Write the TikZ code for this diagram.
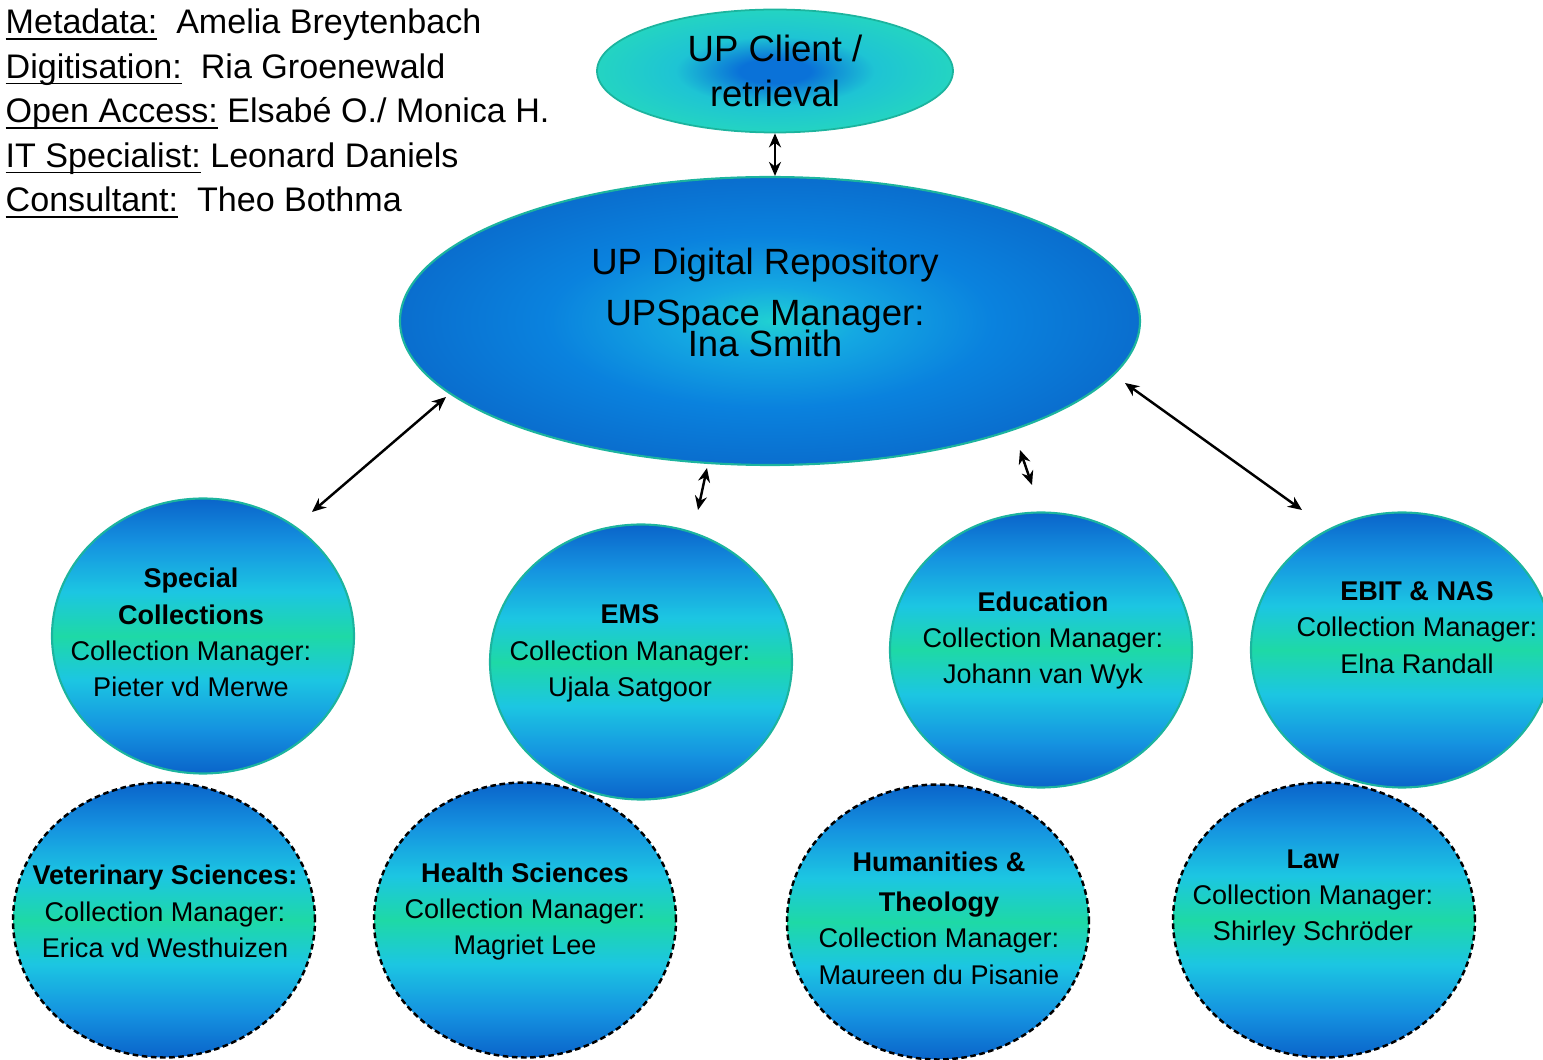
\documentclass[tikz,border=0pt]{standalone}
\usepackage{fontspec}
\setmainfont{Liberation Sans}
\usetikzlibrary{positioning}
\usetikzlibrary{shapes.geometric}
\usetikzlibrary{arrows.meta}

\definecolor{orbdeep}{HTML}{0A64CA}
\definecolor{orbblue}{HTML}{1592E0}
\definecolor{orbcyan}{HTML}{1CC6E2}
\definecolor{orbgreen}{HTML}{1ED9A6}
\definecolor{repocore}{HTML}{20D0D2}
\definecolor{repoinner}{HTML}{14A8E2}
\definecolor{repoblue}{HTML}{0A82DE}
\definecolor{repoedge}{HTML}{0A6ECE}
\definecolor{cliblue}{HTML}{0A72D8}
\definecolor{clitealin}{HTML}{1EC4D4}
\definecolor{cliteal}{HTML}{24D4C2}
\definecolor{rim}{HTML}{1CB49E}

\pgfdeclareverticalshading{orbshade}{100bp}{color(0bp)=(orbdeep); color(25bp)=(orbdeep); color(33bp)=(orbblue); color(42bp)=(orbcyan); color(50bp)=(orbgreen); color(58bp)=(orbcyan); color(67bp)=(orbblue); color(75bp)=(orbdeep); color(100bp)=(orbdeep)}
\pgfdeclareradialshading{reposhade}{\pgfpoint{0bp}{0bp}}{color(0bp)=(repocore); color(6bp)=(repoinner); color(15bp)=(repoblue); color(25bp)=(repoedge); color(50bp)=(repoedge)}
\pgfdeclareradialshading{clishade}{\pgfpoint{0bp}{0bp}}{color(0bp)=(cliblue); color(5bp)=(cliblue); color(14bp)=(clitealin); color(25bp)=(cliteal); color(50bp)=(cliteal)}

\newcommand{\orbfont}{\fontsize{7.7}{10.3}\selectfont}
\newcommand{\bigfont}{\fontsize{10.4}{12.8}\selectfont}
\newcommand{\stafffont}{\fontsize{9.7}{12.6}\selectfont}
\newcommand{\roleline}[1]{\underline{\smash{#1}}}

\tikzset{
	staff/.style = {anchor=base west, inner sep=0pt, font=\stafffont},
	orb/.style = {ellipse, minimum width=3.02cm, minimum height=2.75cm, inner sep=0pt, shading=orbshade},
	orbtop/.style = {orb, draw=rim, line width=0.6pt},
	orbbottom/.style = {orb, draw=black, line width=0.7pt, dash pattern=on 1.6pt off 1pt},
	orbtext/.style = {inner sep=0pt, align=center, font=\orbfont},
	repotext/.style = {anchor=base, inner sep=0pt, font=\bigfont},
	biarrow/.style = {{Stealth[length=1.4mm,width=1.2mm]}-{Stealth[length=1.4mm,width=1.2mm]}, line width=0.7pt, black}
}

\begin{document}
\begin{tikzpicture}
		\useasboundingbox (0,0) rectangle (15.43,-10.60);
		% staff
		\node[staff] (meta) at (0.05,-0.34) {\roleline{Metadata:}\ \ Amelia Breytenbach};
		\node[staff] (digi) at (0.05,-0.785) {\roleline{Digitisation:}\ \ Ria Groenewald};
		\node[staff] (oa) at (0.05,-1.23) {\roleline{Open Access:} Elsabé O./ Monica H.};
		\node[staff] (it) at (0.05,-1.675) {\roleline{IT Specialist:} Leonard Daniels};
		\node[staff] (cons) at (0.05,-2.12) {\roleline{Consultant:}\ \ Theo Bothma};
		
		% client and repository
		\node[ellipse, minimum width=3.56cm, minimum height=1.23cm, inner sep=0pt, shading=clishade, draw=rim, line width=0.5pt, align=center, font=\bigfont] (client) at (7.75,-0.71) {UP Client /\\retrieval};
		\node[ellipse, minimum width=7.40cm, minimum height=2.88cm, inner sep=0pt, shading=reposhade, draw=rim, line width=0.6pt] (repo) at (7.70,-3.21) {};
		\node[repotext] (repo-title) at (7.65,-2.75) {UP Digital Repository};
		\node[repotext] (repo-mgr) at (7.65,-3.26) {UPSpace Manager:};
		\node[repotext] (repo-name) at (7.65,-3.57) {Ina Smith};
		
		% faculties, top row
		\node[orbtop] (spec) at (2.03,-6.36) {};
		\node[orbtop] (ems) at (6.41,-6.62) {};
		\node[orbtop] (edu) at (10.41,-6.50) {};
		\node[orbtop] (ebit) at (14.02,-6.50) {};
		\node[orbtext] (spec-text) at (1.91,-6.325) {\textbf{Special}\\\textbf{Collections}\\Collection Manager:\\Pieter vd Merwe};
		\node[orbtext] (ems-text) at (6.30,-6.535) {\textbf{EMS}\\Collection Manager:\\Ujala Satgoor};
		\node[orbtext] (edu-text) at (10.43,-6.405) {\textbf{Education}\\Collection Manager:\\Johann van Wyk};
		\node[orbtext] (ebit-text) at (14.17,-6.275) {\textbf{EBIT \& NAS}\\Collection Manager:\\Elna Randall};
		
		% faculties, bottom row
		\node[orbbottom] (vet) at (1.64,-9.20) {};
		\node[orbbottom] (health) at (5.25,-9.20) {};
		\node[orbbottom] (hum) at (9.38,-9.22) {};
		\node[orbbottom] (law) at (13.24,-9.20) {};
		\node[orbtext] (vet-text) at (1.65,-9.115) {\textbf{Veterinary Sciences:}\\Collection Manager:\\Erica vd Westhuizen};
		\node[orbtext] (health-text) at (5.25,-9.115) {\textbf{Health Sciences}\\Collection Manager:\\Magriet Lee};
		\node[orbtext] (hum-text) at (9.39,-9.18) {\textbf{Humanities \&}\\[1.2pt]\textbf{Theology}\\Collection Manager:\\Maureen du Pisanie};
		\node[orbtext] (law-text) at (13.13,-8.98) {\textbf{Law}\\Collection Manager:\\Shirley Schröder};
		
		% arrows
		\coordinate (repo-sw) at (4.46,-3.97);
		\coordinate (spec-tip) at (3.12,-5.12);
		\coordinate (repo-s) at (7.07,-4.68);
		\coordinate (ems-tip) at (6.98,-5.10);
		\coordinate (repo-se) at (10.20,-4.50);
		\coordinate (edu-tip) at (10.32,-4.85);
		\coordinate (repo-e) at (11.25,-3.83);
		\coordinate (ebit-tip) at (13.02,-5.10);
		\draw[biarrow] (client.south) -- (client.south |- repo.north);
		\draw[biarrow] (repo-sw) -- (spec-tip);
		\draw[biarrow] (repo-s) -- (ems-tip);
		\draw[biarrow] (repo-se) -- (edu-tip);
		\draw[biarrow] (repo-e) -- (ebit-tip);
	\end{tikzpicture}
\end{document}
